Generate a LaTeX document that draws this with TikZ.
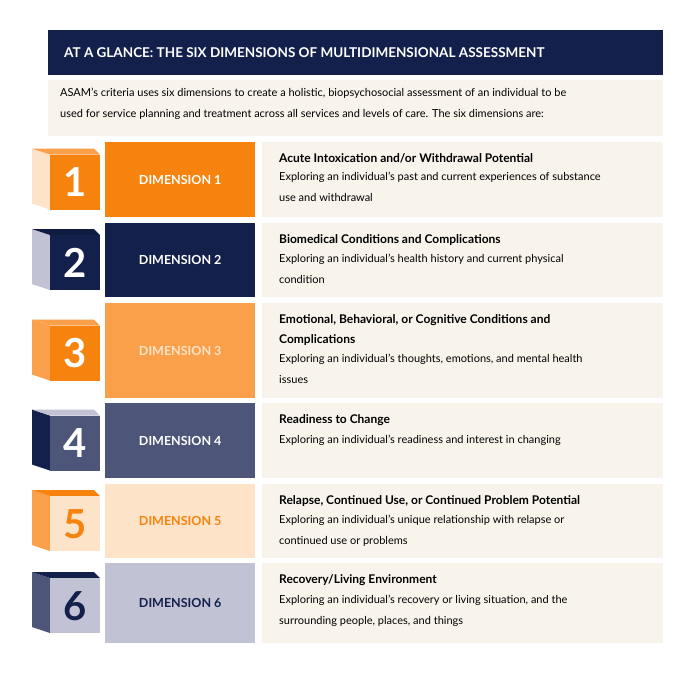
\documentclass[tikz,border=0pt]{standalone}
\usepackage{fontspec}
\setmainfont{Lato}
\usetikzlibrary{positioning}
\definecolor{navy}{HTML}{13204B}
\definecolor{orng}{HTML}{F7830F}
\definecolor{lorng}{HTML}{FBA04A}
\definecolor{peach}{HTML}{FDE3C8}
\definecolor{slate}{HTML}{4D5578}
\definecolor{lav}{HTML}{C1C2D4}
\definecolor{cream}{HTML}{F8F4EC}
\tikzset{
	dimbox/.style={minimum width=150pt,anchor=north west,font=\bfseries\fontsize{12.5}{14}\selectfont},
	panel/.style={fill=cream,minimum width=401pt,anchor=north west},
	htitle/.style={font=\bfseries\fontsize{12}{20}\selectfont,anchor=north west,align=left,inner sep=0pt},
	hbody/.style={font=\fontsize{11}{21}\selectfont,anchor=north west,align=left,inner sep=0pt}
}
\begin{document}
\begin{tikzpicture}[x=1pt,y=-1pt]
\useasboundingbox (0,0) rectangle (696,672);
% header
\node [fill=navy,minimum width=615pt,minimum height=45pt,anchor=north west,inner sep=0pt] (head) at (48,30) {};
\node [text=white,font=\bfseries\fontsize{13.5}{15}\selectfont,anchor=west,inner sep=0pt] (headtxt) at (64,53) {AT A GLANCE: THE SIX DIMENSIONS OF MULTIDIMENSIONAL ASSESSMENT};
\node [fill=cream,minimum width=615pt,minimum height=56pt,anchor=north west,inner sep=0pt] (intro) at (48,80) {};
\node [anchor=north west,align=left,inner sep=0pt,font=\fontsize{11}{21}\selectfont] (introtxt) at (60,88) {ASAM’s criteria uses six dimensions to create a holistic, biopsychosocial assessment of an individual to be\\used for service planning and treatment across all services and levels of care. The six dimensions are:};
% rows: top/bottom/box/front/side/top face/number colour/label colour
\foreach \n/\ya/\yb/\bf/\cf/\cs/\ct/\cn/\cl/\ttl/\bdy in {
	1/142/217/orng/orng/peach/lorng/white/white/{Acute Intoxication and/or Withdrawal Potential}/{Exploring an individual’s past and current experiences of substance\\use and withdrawal},
	2/223/297/navy/navy/lav/navy!85!black/white/white/{Biomedical Conditions and Complications}/{Exploring an individual’s health history and current physical\\condition},
	3/303/398/lorng/orng/lorng/lorng/white/peach/{Emotional, Behavioral, or Cognitive Conditions and\\Complications}/{Exploring an individual’s thoughts, emotions, and mental health\\issues},
	4/403/478/slate/slate/navy/lav/white/white/{Readiness to Change}/{Exploring an individual’s readiness and interest in changing},
	5/484/558/peach/peach/lorng/orng/orng/orng/{Relapse, Continued Use, or Continued Problem Potential}/{Exploring an individual’s unique relationship with relapse or\\continued use or problems},
	6/563/643/lav/lav/slate/navy/navy/navy/{Recovery/Living Environment}/{Exploring an individual’s recovery or living situation, and the\\surrounding people, places, and things}}
{
	\pgfmathsetmacro{\ym}{(\ya+\yb)/2}
	\node [dimbox,fill=\bf,text=\cl,minimum height={\yb-\ya}] (dim\n) at (105,\ya) {DIMENSION \n};
	\node [panel,minimum height={\yb-\ya}] (pan\n) at (262,\ya) {};
	% cube
	\fill [\cs] (32,\ym-31) -- (50,\ym-25) -- (50,\ym+30) -- (32,\ym+24) -- cycle;
	\fill [\ct] (32,\ym-31) -- (94,\ym-31) -- (100,\ym-25) -- (50,\ym-25) -- cycle;
	\node [fill=\cf,minimum width=50pt,minimum height=55pt,inner sep=0pt,anchor=north west,text=\cn,font=\bfseries\fontsize{40}{40}\selectfont] (cube\n) at (50,\ym-25) {\n};
	\node [htitle] (ttl\n) at (279,\ya+11) {\ttl};
	\node [hbody,below=9pt of ttl\n.south west,anchor=north west] (bdy\n) {\bdy};
}
\end{tikzpicture}
\end{document}
